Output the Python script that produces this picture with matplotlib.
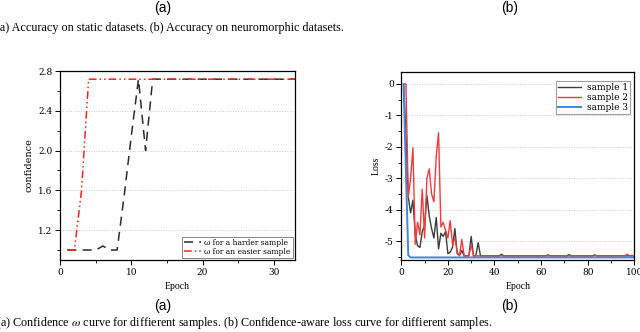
"""Confidence and confidence-aware loss curves, two panels with captions."""

import matplotlib

matplotlib.use("Agg")
import matplotlib.pyplot as plt
from matplotlib.ticker import MultipleLocator

# ---- panel (a): confidence omega per epoch ----
conf_epochs = list(range(1, 34))
conf_harder = [
    1.0, 1.0, 1.0, 1.0, 1.0, 1.04, 1.0, 1.0, 1.55, 2.15,
    2.718, 2.0, 2.718, 2.718, 2.718, 2.718, 2.718, 2.718, 2.718, 2.718,
    2.718, 2.718, 2.718, 2.718, 2.718, 2.718, 2.718, 2.718, 2.718, 2.718,
    2.718, 2.718, 2.718,
]
conf_easier = [
    1.0, 1.0, 1.6, 2.718, 2.718, 2.718, 2.718, 2.718, 2.718, 2.718,
    2.718, 2.718, 2.718, 2.718, 2.718, 2.718, 2.718, 2.718, 2.718, 2.718,
    2.718, 2.718, 2.718, 2.718, 2.718, 2.718, 2.718, 2.718, 2.718, 2.718,
    2.718, 2.718, 2.718,
]
conf_labels = ["ω for a harder sample", "ω for an easier sample"]

# ---- panel (b): loss per epoch ----
loss_epochs = list(range(1, 101))
loss_sample1 = [
    0.0, -1.6, -3.6, -4.1, -3.7, -4.8, -5.15, -5.2, -4.7, -4.5,
    -3.55, -4.2, -4.6, -4.9, -4.25, -5.25, -4.75, -4.85, -4.7, -5.4,
    -5.35, -5.2, -4.6, -5.4, -5.45, -5.3, -5.47, -5.47, -5.47, -4.85,
    -5.47, -5.47, -5.05, -5.47, -5.47, -5.47, -5.47, -5.47, -5.47, -5.47,
    -5.47, -5.47, -5.42, -5.47, -5.47, -5.47, -5.47, -5.47, -5.47, -5.47,
    -5.47, -5.47, -5.47, -5.47, -5.47, -5.47, -5.47, -5.47, -5.47, -5.47,
    -5.47, -5.47, -5.44, -5.47, -5.47, -5.47, -5.47, -5.47, -5.47, -5.47,
    -5.47, -5.43, -5.47, -5.47, -5.47, -5.47, -5.47, -5.47, -5.47, -5.47,
    -5.47, -5.47, -5.44, -5.47, -5.47, -5.47, -5.47, -5.47, -5.47, -5.47,
    -5.47, -5.47, -5.47, -5.47, -5.47, -5.47, -5.47, -5.47, -5.47, -5.47,
]
loss_sample2 = [
    0.0, 0.0, -3.6, -3.0, -2.03, -5.1, -4.4, -4.8, -3.35, -4.9,
    -3.0, -2.7, -3.5, -3.75, -2.3, -1.55, -4.55, -4.4, -4.65, -4.9,
    -4.35, -5.1, -4.9, -5.35, -5.47, -4.95, -5.47, -5.47, -5.47, -5.1,
    -5.47, -5.47, -5.47, -5.47, -5.47, -5.47, -5.47, -5.47, -5.47, -5.47,
    -5.47, -5.47, -5.47, -5.47, -5.47, -5.47, -5.47, -5.47, -5.47, -5.47,
    -5.47, -5.47, -5.47, -5.47, -5.47, -5.47, -5.47, -5.47, -5.47, -5.47,
    -5.47, -5.47, -5.47, -5.47, -5.47, -5.47, -5.47, -5.47, -5.47, -5.47,
    -5.47, -5.47, -5.47, -5.47, -5.47, -5.47, -5.47, -5.47, -5.47, -5.47,
    -5.47, -5.47, -5.47, -5.47, -5.47, -5.47, -5.47, -5.47, -5.47, -5.47,
    -5.47, -5.47, -5.47, -5.47, -5.47, -5.47, -5.42, -5.47, -5.47, -5.47,
]
loss_sample3 = [
    0.0, -2.8, -5.45, -5.52, -5.52, -5.52, -5.52, -5.52, -5.52, -5.52,
    -5.52, -5.52, -5.52, -5.52, -5.52, -5.52, -5.52, -5.52, -5.52, -5.52,
    -5.52, -5.52, -5.52, -5.52, -5.52, -5.52, -5.52, -5.52, -5.52, -5.52,
    -5.52, -5.52, -5.52, -5.52, -5.52, -5.52, -5.52, -5.52, -5.52, -5.52,
    -5.52, -5.52, -5.52, -5.52, -5.52, -5.52, -5.52, -5.52, -5.52, -5.52,
    -5.52, -5.52, -5.52, -5.52, -5.52, -5.52, -5.52, -5.52, -5.52, -5.52,
    -5.52, -5.52, -5.52, -5.52, -5.52, -5.52, -5.52, -5.52, -5.52, -5.52,
    -5.52, -5.52, -5.52, -5.52, -5.52, -5.52, -5.52, -5.52, -5.52, -5.52,
    -5.52, -5.52, -5.52, -5.52, -5.52, -5.52, -5.52, -5.52, -5.52, -5.52,
    -5.52, -5.52, -5.52, -5.52, -5.52, -5.52, -5.52, -5.52, -5.52, -5.52,
]
loss_labels = ["sample 1", "sample 2", "sample 3"]

TOP_CAPTION = "(a) Accuracy on static datasets. (b) Accuracy on neuromorphic datasets."
BOTTOM_CAPTION = (
    "(a) Confidence $\\omega$ curve for diffierent samples. "
    "(b) Confidence-aware loss curve for diffierent samples."
)

SERIF = ["Liberation Serif", "DejaVu Serif"]
SANS = ["Liberation Sans", "DejaVu Sans"]
TICK_FONT = ["DejaVu Serif"]

plt.rcParams["mathtext.fontset"] = "stix"
plt.rcParams["axes.unicode_minus"] = False


def style_axes(ax):
    for spine in ax.spines.values():
        spine.set_linewidth(0.9)
        spine.set_color("black")
    ax.tick_params(which="major", direction="out", length=3.5, width=0.7, labelsize=6.5, pad=2)
    ax.tick_params(which="minor", direction="out", length=2, width=0.6)
    for lab in ax.get_xticklabels() + ax.get_yticklabels():
        lab.set_family(TICK_FONT)
    ax.grid(True, axis="y", which="major", linestyle=":", color="#c8c8c8", linewidth=0.7)
    ax.set_axisbelow(True)


fig = plt.figure(figsize=(6.4, 3.32), dpi=100)

# panel (a)
ax1 = fig.add_axes([0.094, 0.217, 0.367, 0.569])
ax1.plot(conf_epochs, conf_harder, color="#2b2b2b", linewidth=1.1,
         linestyle=(0, (6, 4)), label=conf_labels[0])
ax1.plot(conf_epochs, conf_easier, color="#ff2020", linewidth=1.1,
         linestyle=(0, (5, 2, 1, 2, 1, 2)), label=conf_labels[1])
ax1.set_xlim(0, 33)
ax1.set_ylim(0.9, 2.8)
ax1.xaxis.set_major_locator(MultipleLocator(10))
ax1.xaxis.set_minor_locator(MultipleLocator(5))
ax1.yaxis.set_minor_locator(MultipleLocator(0.2))
ax1.set_yticks([1.2, 1.6, 2.0, 2.4, 2.8])
ax1.set_yticklabels(["1.2", "1.6", "2.0", "2.4", "2.8"])
style_axes(ax1)
ax1.set_xlabel("Epoch", fontsize=7, family=SERIF, labelpad=4)
ax1.set_ylabel("confidence", fontsize=7, family=TICK_FONT, labelpad=3)
leg1 = ax1.legend(loc="lower right", frameon=True, fancybox=False,
                  edgecolor="#666666", handlelength=2.2, borderpad=0.25,
                  labelspacing=0.15, handletextpad=0.5, borderaxespad=0.3,
                  prop={"family": TICK_FONT, "size": 5.5})
leg1.get_frame().set_linewidth(0.7)

# panel (b)
ax2 = fig.add_axes([0.627, 0.217, 0.364, 0.566])
ax2.plot(loss_epochs, loss_sample1, color="#3c3c3c", linewidth=1.0, label=loss_labels[0])
ax2.plot(loss_epochs, loss_sample2, color="#f23a3a", linewidth=1.0, label=loss_labels[1])
ax2.plot(loss_epochs, loss_sample3, color="#3f87e0", linewidth=1.4, label=loss_labels[2])
ax2.set_xlim(0, 100)
ax2.set_ylim(-5.6, 0.38)
ax2.xaxis.set_major_locator(MultipleLocator(20))
ax2.xaxis.set_minor_locator(MultipleLocator(10))
ax2.yaxis.set_major_locator(MultipleLocator(1))
ax2.yaxis.set_minor_locator(MultipleLocator(0.5))
style_axes(ax2)
ax2.set_xlabel("Epoch", fontsize=7, family=SERIF, labelpad=4)
ax2.set_ylabel("Loss", fontsize=7, family=SERIF, labelpad=3)
leg2 = ax2.legend(loc="upper right", frameon=True, fancybox=False,
                  edgecolor="#888888", handlelength=2.6, borderpad=0.2,
                  labelspacing=0.1, handletextpad=0.6,
                  bbox_to_anchor=(1.0, 0.975),
                  prop={"family": TICK_FONT, "size": 6.5})
leg2.get_frame().set_linewidth(0.8)

# sub-figure labels and captions
fig.text(163 / 640, 1 - 8 / 332, "(a)", ha="center", va="center", fontsize=10, family=SANS)
fig.text(510 / 640, 1 - 8 / 332, "(b)", ha="center", va="center", fontsize=10, family=SANS)
fig.text(-4 / 640, 1 - 28 / 332, TOP_CAPTION, ha="left", va="center", fontsize=8.7, family=SERIF)
fig.text(163 / 640, 1 - 306 / 332, "(a)", ha="center", va="center", fontsize=10, family=SANS)
fig.text(510 / 640, 1 - 306 / 332, "(b)", ha="center", va="center", fontsize=10, family=SANS)
fig.text(-4 / 640, 1 - 323 / 332, BOTTOM_CAPTION, ha="left", va="center", fontsize=8.7, family=SERIF)

fig.savefig("out.png", dpi=100)
plt.close(fig)
